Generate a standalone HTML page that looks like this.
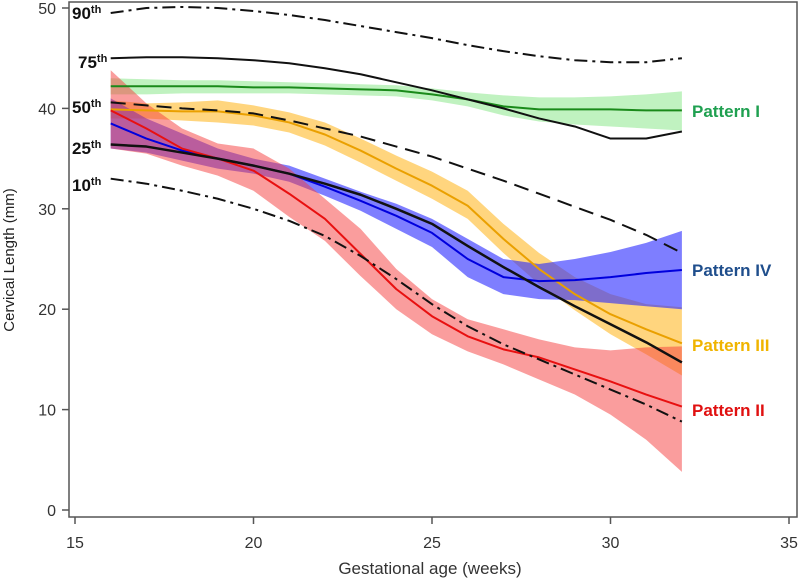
<!DOCTYPE html>
<html><head><meta charset="utf-8"><style>
body{margin:0;background:#fff}
svg{display:block;font-family:"Liberation Sans",sans-serif}
</style></head><body>
<svg id="chart" width="800" height="581">
<rect x="69" y="2" width="728" height="515" fill="none" stroke="#555" stroke-width="1.5"/>
<g id="axes"></g><g id="bands"></g><g id="lines"></g><g id="labels"></g>
<text x="430" y="574" font-size="17" text-anchor="middle" fill="#333">Gestational age (weeks)</text>
<text transform="translate(14,260) rotate(-90)" font-size="15" text-anchor="middle" fill="#222">Cervical Length (mm)</text>
</svg>
<script>
const weeks=[16,17,18,19,20,21,22,23,24,25,26,27,28,29,30,31,32];
const xTicks=[15,20,25,30,35];
const yTicks=[0,10,20,30,40,50];
const p90=[49.5,50,50.1,50,49.7,49.3,48.8,48.2,47.6,47,46.3,45.7,45.2,44.8,44.6,44.6,45];
const p75=[45,45.1,45.1,45,44.8,44.5,44,43.4,42.6,41.8,40.9,40,39,38.2,37,37,37.7];
const p50=[40.6,40.3,40,39.8,39.5,38.8,38,37.2,36.2,35.2,34,32.8,31.5,30.2,28.9,27.4,25.6];
const p25=[36.4,36.2,35.6,35,34.3,33.5,32.5,31.4,30,28.5,26.3,24.2,22.2,20.3,18.5,16.7,14.7];
const p10=[33,32.5,31.8,31,30,28.8,27.3,25.3,23,20.5,18.3,16.5,15,13.5,12,10.5,8.8];
const pat1=[42.2,42.2,42.2,42.2,42.1,42.1,42,41.9,41.8,41.4,40.9,40.2,39.9,39.9,39.9,39.8,39.8];
const pat1Up=[43,42.9,42.8,42.8,42.7,42.6,42.5,42.4,42.3,42,41.6,41.3,41.1,41.1,41.2,41.4,41.7];
const pat1Lo=[41.4,41.4,41.5,41.5,41.5,41.5,41.4,41.3,41.2,40.8,40.2,39.3,38.7,38.4,38.2,38,37.8];
const pat3=[39.9,39.8,39.7,39.7,39.3,38.6,37.4,35.8,34,32.3,30.3,27,24,21.5,19.5,18,16.6];
const pat3Up=[40.8,40.5,40.6,40.8,40.3,39.6,38.6,37,35.3,33.7,31.8,28.5,25.6,23.2,21.5,20.5,20.2];
const pat3Lo=[39,39,38.8,38.6,38.3,37.6,36.3,34.6,32.8,31,29,25.6,22.5,19.9,17.5,15.5,13.4];
const pat4=[38.5,37,35.8,35,34.3,33.5,32.2,30.8,29.3,27.6,25,23.2,22.8,22.9,23.2,23.6,23.9];
const pat4Up=[41,39,37.5,36,35,34.3,33,31.7,30.5,29,27,25,24.5,25,25.7,26.6,27.8];
const pat4Lo=[36,35.6,34.8,34,33.5,32.7,31.3,29.8,28,26.2,23.2,21.5,21,20.9,20.6,20.3,20];
const pat2=[39.8,38,36,35,33.8,31.5,29,25.5,22,19.3,17.3,16,15.2,14,12.8,11.5,10.3];
const pat2Up=[43.8,40.5,38,36.5,36,34,31,28,24,21,19,18,17,16.2,15.9,16.2,16.3];
const pat2Lo=[36,35.5,34.3,33.3,31.8,29.2,26.8,23.3,20,17.5,15.8,14.5,13,11.5,9.5,7,3.8];

const NS="http://www.w3.org/2000/svg";
const X=w=>75+(w-15)*35.7;
const Y=v=>510-v*10.04;
function mk(tag,attrs,parent){const e=document.createElementNS(NS,tag);for(const k in attrs)e.setAttribute(k,attrs[k]);document.getElementById(parent).appendChild(e);return e;}
xTicks.forEach(t=>{
 const l=mk('line',{x1:X(t),x2:X(t),y1:517,y2:524,stroke:'#555','stroke-width':1.5},'axes');
 
 
 const s=mk('text',{x:X(t),y:548,'font-size':16,'text-anchor':'middle',fill:'#333'},'axes');s.textContent=t;
 
 
});
yTicks.forEach(t=>{
 const l=mk('line',{x1:62,x2:69,y1:Y(t),y2:Y(t),stroke:'#555','stroke-width':1.5},'axes');
 
 
 const s=mk('text',{x:56,y:Y(t)+6,'font-size':16,'text-anchor':'end',fill:'#333'},'axes');s.textContent=t;
 
 
});
function pts(a){return a.map((v,i)=>X(weeks[i])+','+Y(v)).join(' ');}
function band(up,lo,fill,name){
 const p=up.map((v,i)=>X(weeks[i])+','+Y(v)).concat(lo.map((v,i)=>X(weeks[i])+','+Y(v)).reverse()).join(' ');
 const e=mk('polygon',{points:p,fill:fill},'bands');
 
 
}
band(pat1Up,pat1Lo,'rgba(130,230,130,0.5)','pattern-1-band');
band(pat3Up,pat3Lo,'rgba(255,185,40,0.6)','pattern-3-band');
band(pat4Up,pat4Lo,'rgba(40,40,255,0.6)','pattern-4-band');
band(pat2Up,pat2Lo,'rgba(245,60,60,0.5)','pattern-2-band');
function line(a,stroke,dash,name,w){
 const e=mk('polyline',{points:pts(a),fill:'none',stroke:stroke,'stroke-width':w||2,'stroke-dasharray':dash||'none','stroke-linejoin':'round'},'lines');
 
 
}
line(pat1,'#1a8a1a','', 'pattern-1-line');
line(pat3,'#eaa000','', 'pattern-3-line');
line(pat4,'#0000dd','', 'pattern-4-line');
line(pat2,'#e81010','', 'pattern-2-line');
line(p90,'#111','13 5 3 5','p90-line');
line(p75,'#111','','p75-line');
line(p50,'#111','15 8','p50-line');
line(p25,'#111','','p25-line',2.5);
line(p10,'#111','13 5 3 5','p10-line');
const pctLabels=[['90',72,19,'p90-label'],['75',78,68,'p75-label'],['50',72,113,'p50-label'],['25',72,154,'p25-label'],['10',72,191,'p10-label']];
pctLabels.forEach(d=>{
 const t=mk('text',{x:d[1],y:d[2],'font-size':17,'font-weight':'bold',fill:'#111'},'labels');
 t.innerHTML=d[0]+'<tspan font-size="11" dy="-6">th</tspan>';
 
 
});
const patLabels=[['Pattern I',692,117,'#1fa050','pattern-1-label'],['Pattern IV',692,276,'#1f4e8c','pattern-4-label'],['Pattern III',692,351,'#f0b400','pattern-3-label'],['Pattern II',692,416,'#e01010','pattern-2-label']];
patLabels.forEach(d=>{
 const t=mk('text',{x:d[1],y:d[2],'font-size':17,'font-weight':'bold',fill:d[3]},'labels');
 t.textContent=d[0];
 
 
});
</script>
</body></html>
